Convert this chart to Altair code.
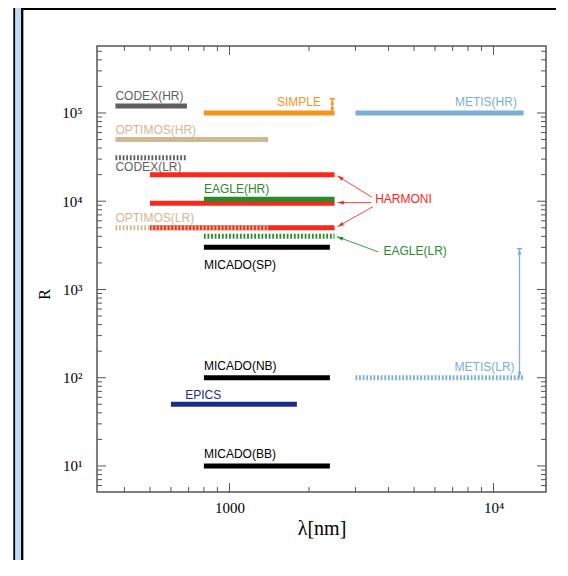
import math
import altair as alt
import pandas as pd

# ---------------- data ----------------
# solid bars (high / nominal resolution)
solid_names = ["CODEX(HR)", "SIMPLE", "METIS(HR)", "OPTIMOS(HR)", "HARMONI", "HARMONI",
               "EAGLE(HR)", "HARMONI", "MICADO(SP)", "MICADO(NB)", "EPICS", "MICADO(BB)"]
solid_family = ["CODEX", "SIMPLE", "METIS", "OPTIMOS", "HARMONI", "HARMONI",
                "EAGLE", "HARMONI", "MICADO", "MICADO", "EPICS", "MICADO"]
solid_lam_min = [370, 800, 3000, 370, 500, 500, 800, 500, 800, 800, 600, 800]
solid_lam_max = [690, 2500, 13000, 1400, 2500, 2500, 2500, 2500, 2400, 2400, 1800, 2400]
solid_R = [120000, 100000, 100000, 50000, 20000, 9500, 10500, 5000, 3000, 100, 50, 10]

# dashed bars (low resolution modes)
dashed_names = ["CODEX(LR)", "OPTIMOS(LR)", "EAGLE(LR)", "METIS(LR)"]
dashed_family = ["CODEX", "OPTIMOS", "EAGLE", "METIS"]
dashed_lam_min = [370, 370, 800, 3000]
dashed_lam_max = [690, 1400, 2500, 13000]
dashed_R = [31000, 5000, 4000, 100]

# labels, left aligned
lab_l_text = ["CODEX(HR)", "OPTIMOS(HR)", "CODEX(LR)", "EAGLE(HR)", "OPTIMOS(LR)", "MICADO(SP)",
              "HARMONI", "EAGLE(LR)", "MICADO(NB)", "EPICS", "MICADO(BB)"]
lab_l_family = ["CODEX", "OPTIMOS", "CODEX", "EAGLE", "OPTIMOS", "MICADO",
                "HARMONI", "EAGLE", "MICADO", "EPICS", "MICADO"]
lab_l_lam = [370, 370, 370, 800, 370, 800, 3563, 3831, 800, 680, 800]
lab_l_R = [155000, 64000, 24400, 13700, 6460, 1910, 10500, 2745, 137, 64.3, 13.7]

# labels, right aligned
lab_r_text = ["SIMPLE", "METIS(HR)", "METIS(LR)"]
lab_r_family = ["SIMPLE", "METIS", "METIS"]
lab_r_lam = [2220, 12260, 12010]
lab_r_R = [132000, 132000, 131]

# slanted pointer arrows (start -> end)
arr_family = ["HARMONI", "HARMONI", "HARMONI", "EAGLE"]
arr_lam_s = [3463, 3441, 3493, 3667]
arr_R_s = [11085, 9650, 8670, 2661]
arr_lam_e = [2560, 2565, 2565, 2551]
arr_R_e = [19400, 9650, 5150, 3965]

# vertical range arrows
varr_family = ["SIMPLE", "METIS"]
varr_lam = [2450, 12540]
varr_R_lo = [100000, 100]
varr_R_hi = [145000, 2900]

# axis ticks
x_major = [1000, 10000]
x_minor = [400, 500, 600, 700, 800, 900, 2000, 3000, 4000, 5000, 6000, 7000, 8000, 9000]
y_major = [10, 100, 1000, 10000, 100000]
y_minor = [6, 7, 8, 9, 20, 30, 40, 50, 60, 70, 80, 90,
           200, 300, 400, 500, 600, 700, 800, 900,
           2000, 3000, 4000, 5000, 6000, 7000, 8000, 9000,
           20000, 30000, 40000, 50000, 60000, 70000, 80000, 90000,
           200000, 300000, 400000, 500000]

families = ["CODEX", "SIMPLE", "METIS", "OPTIMOS", "HARMONI", "EAGLE", "MICADO", "EPICS"]
family_colors = ["#5f5f5f", "#f7941d", "#7bafd4", "#d1b894", "#f8281a", "#2a8a2a", "#000000", "#1a2b8a"]

# ---------------- layout ----------------
W, H = 449, 446
X_DOMAIN = [315, 15800]
Y_DOMAIN = [5.07, 574000]
AX = "#555555"

xscale = alt.Scale(type="log", domain=X_DOMAIN, nice=False)
yscale = alt.Scale(type="log", domain=Y_DOMAIN, nice=False)

xaxis = alt.Axis(values=x_major, labelExpr="datum.value < 3000 ? '1000' : '10⁴'",
                 ticks=False, domain=False, grid=False, title="λ[nm]",
                 labelPadding=8, titlePadding=3, labelFont="Liberation Serif", labelFontSize=15,
                 labelColor="black", titleFont="Liberation Serif", titleFontSize=20,
                 titleFontWeight="normal", titleColor="black")
yaxis = alt.Axis(values=y_major,
                 labelExpr=("datum.value < 30 ? '10¹' : datum.value < 300 ? '10²' : "
                            "datum.value < 3000 ? '10³' : datum.value < 30000 ? '10⁴' : '10⁵'"),
                 ticks=False, domain=False, grid=False, title="R",
                 labelPadding=15, labelFont="Liberation Serif", labelFontSize=15, labelColor="black",
                 titleFont="Liberation Serif", titleFontSize=16, titleFontWeight="normal",
                 titleColor="black", titleAngle=270, titleX=-53, titleY=248,
                 titleAlign="center", titleBaseline="middle")


def X(f):
    return alt.X(f, type="quantitative", scale=xscale, axis=xaxis)


def Y(f):
    return alt.Y(f, type="quantitative", scale=yscale, axis=yaxis)


color = alt.Color("family:N", scale=alt.Scale(domain=families, range=family_colors), legend=None)

LX0, LX1 = math.log10(X_DOMAIN[0]), math.log10(X_DOMAIN[1])
LY0, LY1 = math.log10(Y_DOMAIN[0]), math.log10(Y_DOMAIN[1])


def px(l):
    return W * (math.log10(l) - LX0) / (LX1 - LX0)


def py(r):
    return H * (1 - (math.log10(r) - LY0) / (LY1 - LY0))


arr_ang = [math.degrees(math.atan2(px(le) - px(ls), -(py(re) - py(rs)))) % 360
           for ls, rs, le, re in zip(arr_lam_s, arr_R_s, arr_lam_e, arr_R_e)]

ARROW = "M0,0L0.6,2L-0.6,2Z"
CAP = "M-1,0L1,0"

# ---------------- tables ----------------
solid_df = pd.DataFrame({"name": solid_names, "family": solid_family,
                         "lam1": solid_lam_min, "lam2": solid_lam_max, "R": solid_R})
dashed_df = pd.DataFrame({"name": dashed_names, "family": dashed_family,
                          "lam1": dashed_lam_min, "lam2": dashed_lam_max, "R": dashed_R})
labl_df = pd.DataFrame({"text": lab_l_text, "family": lab_l_family, "lam": lab_l_lam, "R": lab_l_R})
labr_df = pd.DataFrame({"text": lab_r_text, "family": lab_r_family, "lam": lab_r_lam, "R": lab_r_R})
arr_df = pd.DataFrame({"family": arr_family, "lam_s": arr_lam_s, "R_s": arr_R_s,
                       "lam_e": arr_lam_e, "R_e": arr_R_e, "ang": arr_ang})
varr_df = pd.DataFrame({"family": varr_family, "lam": varr_lam, "R_lo": varr_R_lo, "R_hi": varr_R_hi})
one = pd.DataFrame({"k": [0]})

layers = []

# decorative slide frame
layers.append(alt.Chart(one).mark_rule(color="#c2dbf5", strokeWidth=6).encode(
    x=alt.value(-79), y=alt.value(-40), y2=alt.value(600)))
layers.append(alt.Chart(one).mark_rule(color="black", strokeWidth=1.8).encode(
    x=alt.value(-82.8), y=alt.value(-40), y2=alt.value(600)))
layers.append(alt.Chart(one).mark_rule(color="black", strokeWidth=2.3).encode(
    x=alt.value(-74.8), y=alt.value(-40), y2=alt.value(600)))
layers.append(alt.Chart(one).mark_rule(color="black", strokeWidth=2).encode(
    x=alt.value(-76), x2=alt.value(520), y=alt.value(-37)))

# ticks (inward, mirrored)
for vals, ln in [(x_major, 9), (x_minor, 5)]:
    base = alt.Chart(pd.DataFrame({"lam": vals})).mark_rule(color=AX, strokeWidth=1)
    layers.append(base.encode(x=X("lam"), y=alt.value(H), y2=alt.value(H - ln)))
    layers.append(base.encode(x=X("lam"), y=alt.value(0), y2=alt.value(ln)))
for vals, ln in [(y_major, 9), (y_minor, 5)]:
    base = alt.Chart(pd.DataFrame({"R": vals})).mark_rule(color=AX, strokeWidth=1)
    layers.append(base.encode(y=Y("R"), x=alt.value(0), x2=alt.value(ln)))
    layers.append(base.encode(y=Y("R"), x=alt.value(W), x2=alt.value(W - ln)))

# bars
layers.append(alt.Chart(solid_df).mark_rule(strokeWidth=5, strokeCap="butt").encode(
    x=X("lam1"), x2="lam2", y=Y("R"), color=color))
layers.append(alt.Chart(dashed_df).mark_rule(strokeWidth=5, strokeCap="butt", strokeDash=[1.8, 1.8]).encode(
    x=X("lam1"), x2="lam2", y=Y("R"), color=color))

# pointer arrows
layers.append(alt.Chart(arr_df).mark_rule(strokeWidth=1, opacity=0.85).encode(
    x=X("lam_s"), x2="lam_e", y=Y("R_s"), y2="R_e", color=color))
layers.append(alt.Chart(arr_df).mark_point(shape=ARROW, filled=True, size=40, opacity=1).encode(
    x=X("lam_e"), y=Y("R_e"), angle=alt.Angle("ang:Q", scale=None), color=color))

# vertical range arrows
layers.append(alt.Chart(varr_df).mark_rule(strokeWidth=1.3).encode(
    x=X("lam"), y=Y("R_lo"), y2="R_hi", color=color))
layers.append(alt.Chart(varr_df).mark_point(shape=ARROW, filled=True, size=36, opacity=1, angle=0).encode(
    x=X("lam"), y=Y("R_hi"), color=color))
layers.append(alt.Chart(varr_df).mark_point(shape=ARROW, filled=True, size=36, opacity=1, angle=180).encode(
    x=X("lam"), y=Y("R_lo"), color=color))
layers.append(alt.Chart(varr_df).mark_point(shape=CAP, filled=False, size=30, strokeWidth=1.5, opacity=1).encode(
    x=X("lam"), y=Y("R_hi"), color=color))

# labels
layers.append(alt.Chart(labl_df).mark_text(align="left", baseline="middle", font="Liberation Sans",
                                           fontSize=12).encode(
    x=X("lam"), y=Y("R"), text="text:N", color=color))
layers.append(alt.Chart(labr_df).mark_text(align="right", baseline="middle", font="Liberation Sans",
                                           fontSize=12).encode(
    x=X("lam"), y=Y("R"), text="text:N", color=color))

chart = alt.layer(*layers).properties(
    width=W, height=H,
    autosize=alt.AutoSizeParams(type="none"),
    padding={"left": 89, "top": 38, "right": 10, "bottom": 68},
    background="white",
).configure_view(stroke=AX, strokeWidth=1.5)

chart.save("out.html", embed_options={"renderer": "svg", "actions": False})
